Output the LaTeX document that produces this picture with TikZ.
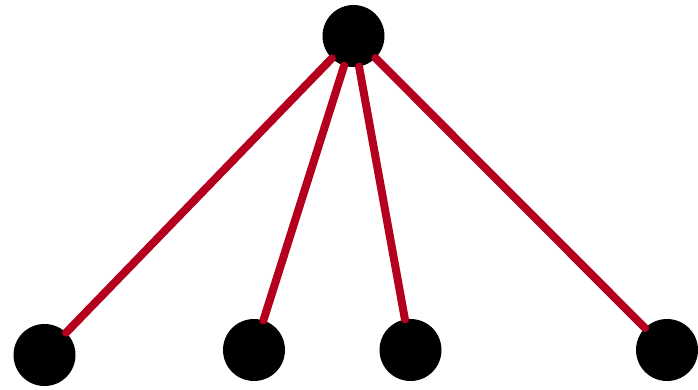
\documentclass[tikz,border=0pt]{standalone}
\usepackage{tikz}
\usetikzlibrary{positioning}
\definecolor{edgered}{RGB}{180,0,30}

\begin{document}
\begin{tikzpicture}[x=1pt, y=-1pt,
    vertex/.style={circle, fill=black, inner sep=0pt, outer sep=0pt, minimum size=62pt},
    link/.style={edgered, line width=8pt, line cap=round}]
    \useasboundingbox (0,0) rectangle (698,389);
    %, root ---
    \node[vertex] (root) at (353.5,36) {};
    %, leaves ---
    \node[vertex] (leafA) at (44.5,355) {};
    \node[vertex] (leafB) at (254,350) {};
    \node[vertex] (leafC) at (410.5,350) {};
    \node[vertex] (leafD) at (667,350) {};
    % edges
    \foreach \l in {leafA,leafB,leafC,leafD}
        \draw[link] (root) -- (\l);
\end{tikzpicture}
\end{document}
